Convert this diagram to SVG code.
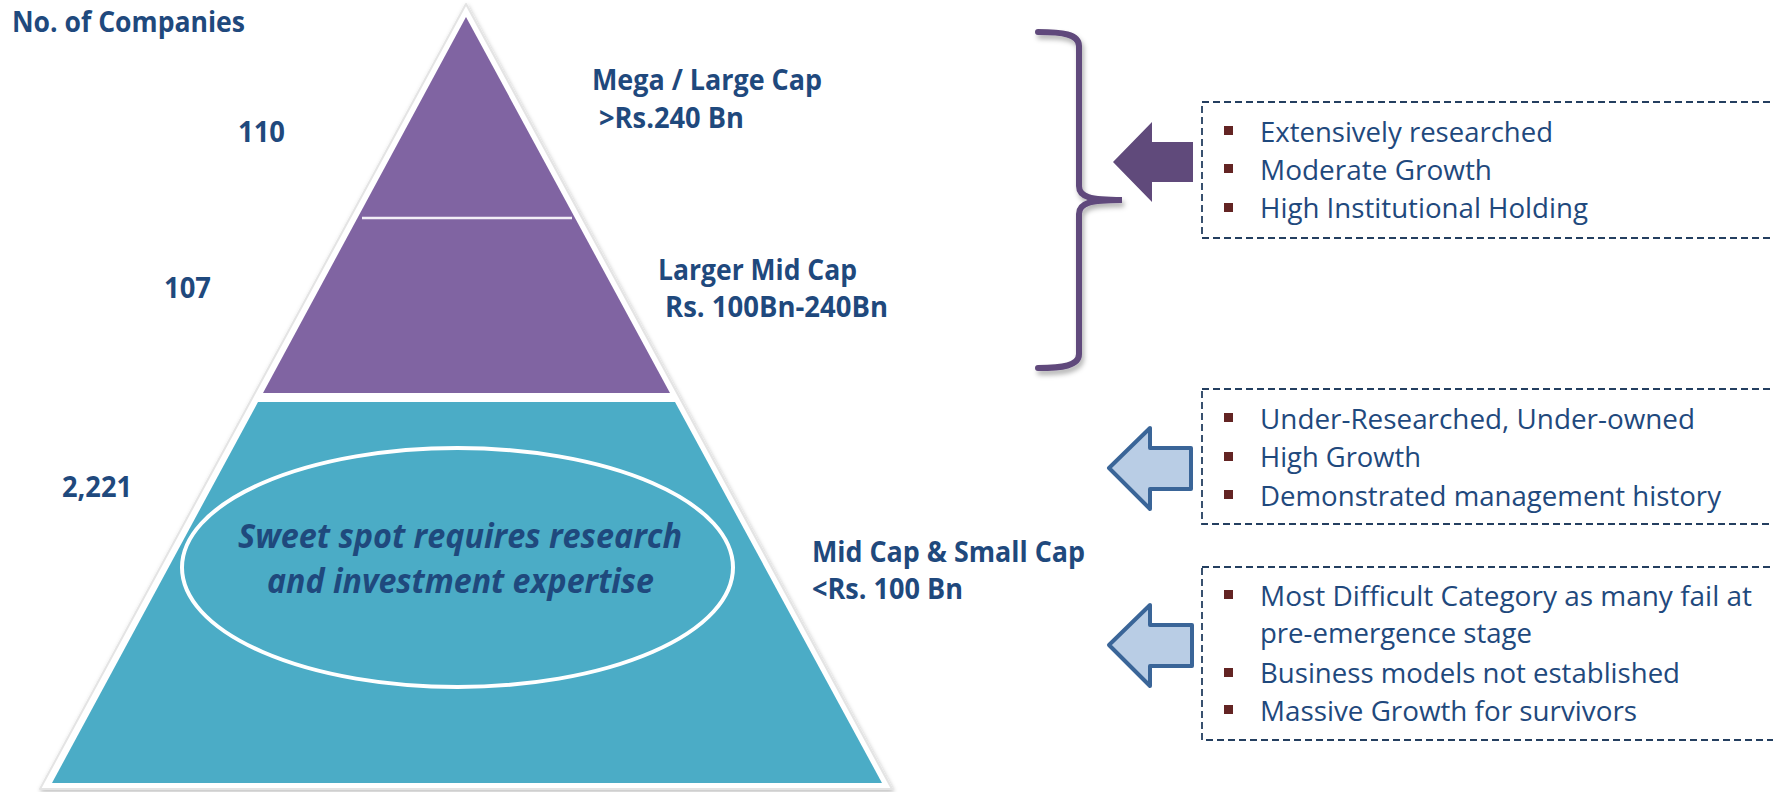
<svg xmlns="http://www.w3.org/2000/svg" width="1773" height="792" viewBox="0 0 1773 792">
<defs>
<filter id="soft" x="-5%" y="-5%" width="110%" height="110%">
<feDropShadow dx="1" dy="2" stdDeviation="2" flood-color="#000" flood-opacity="0.25"/>
</filter>
<filter id="brsh" x="-20%" y="-5%" width="140%" height="110%">
<feDropShadow dx="2" dy="4" stdDeviation="2.5" flood-color="#000" flood-opacity="0.3"/>
</filter>
<style>
.lbl{font-family:"Open Sans","Liberation Sans",sans-serif;font-weight:bold;font-size:28px;fill:#1F497D}
.bul{font-family:"Open Sans","Liberation Sans",sans-serif;font-size:27px;fill:#1F497D}
.sw{font-family:"Open Sans","Liberation Sans",sans-serif;font-weight:bold;font-style:italic;font-size:34px;fill:#1F497D}
.box{fill:none;stroke:#243F60;stroke-width:1.8;stroke-dasharray:7 4}
.sq{fill:#632423}
.barrow{fill:#B9CDE5;stroke:#3A6598;stroke-width:4;stroke-linejoin:round}
</style>
</defs>
<rect width="1773" height="792" fill="#fff"/>

<g id="pyramid">
<polygon points="466,4 892,789 40,789" fill="#fff" stroke="#e4e4e4" stroke-width="2" stroke-linejoin="round" filter="url(#soft)"/>
<g id="tier-top">
<polygon points="466,17 670,393 263,393" fill="#8064A2"/>
<line x1="362" y1="218" x2="572" y2="218" stroke="#f2eef7" stroke-width="2.5"/>
</g>
<g id="tier-bottom">
<polygon points="258,402 675,402 882,783 52,783" fill="#4BACC6"/>
</g>
<g id="sweet-spot">
<ellipse cx="457.5" cy="567.5" rx="275.5" ry="119.5" fill="none" stroke="#fff" stroke-width="4"/>
<text class="sw" x="460" y="548" text-anchor="middle" textLength="444" lengthAdjust="spacingAndGlyphs">Sweet spot requires research</text>
<text class="sw" x="460.5" y="593" text-anchor="middle" textLength="387" lengthAdjust="spacingAndGlyphs">and investment expertise</text>
</g>
</g>

<g id="counts">
<text class="lbl" x="12" y="32" textLength="233" lengthAdjust="spacingAndGlyphs">No. of Companies</text>
<text class="lbl" x="238" y="142" textLength="47" lengthAdjust="spacingAndGlyphs">110</text>
<text class="lbl" x="164" y="298" textLength="47" lengthAdjust="spacingAndGlyphs">107</text>
<text class="lbl" x="62" y="497" textLength="70" lengthAdjust="spacingAndGlyphs">2,221</text>
</g>

<g id="label-mega">
<text class="lbl" x="592" y="90" textLength="230" lengthAdjust="spacingAndGlyphs">Mega / Large Cap</text>
<text class="lbl" x="599" y="128" textLength="145" lengthAdjust="spacingAndGlyphs">&gt;Rs.240 Bn</text>
</g>
<g id="label-largermid">
<text class="lbl" x="658" y="280" textLength="199" lengthAdjust="spacingAndGlyphs">Larger Mid Cap</text>
<text class="lbl" x="665" y="317" textLength="223" lengthAdjust="spacingAndGlyphs">Rs. 100Bn-240Bn</text>
</g>
<g id="label-midsmall">
<text class="lbl" x="812" y="562" textLength="273" lengthAdjust="spacingAndGlyphs">Mid Cap &amp; Small Cap</text>
<text class="lbl" x="812" y="599" textLength="151" lengthAdjust="spacingAndGlyphs">&lt;Rs. 100 Bn</text>
</g>

<g id="connectors">
<path id="bracket" d="M1038,32 C1062,32 1079,34 1079,46 L1079,186 C1079,197 1090,200 1122,200 C1090,200 1079,203 1079,214 L1079,354 C1079,366 1062,368 1038,368" fill="none" stroke="#604A7B" stroke-width="6" stroke-linecap="round" filter="url(#brsh)"/>
<polygon id="arrow1" points="1113,162 1152,122 1152,142 1193,142 1193,182 1152,182 1152,202" fill="#604A7B"/>
<polygon id="arrow2" class="barrow" points="1109,468 1150,428 1150,448 1191,448 1191,489 1150,489 1150,509"/>
<polygon id="arrow3" class="barrow" points="1109,645 1150,605 1150,625 1192,625 1192,666 1150,666 1150,686"/>
</g>

<g id="box1">
<rect class="box" x="1202" y="102" width="590" height="136"/>
<rect class="sq" x="1224" y="126" width="9" height="9"/>
<rect class="sq" x="1224" y="164" width="9" height="9"/>
<rect class="sq" x="1224" y="203" width="9" height="9"/>
<text class="bul" x="1260" y="142" textLength="293" lengthAdjust="spacingAndGlyphs">Extensively researched</text>
<text class="bul" x="1260" y="180" textLength="232" lengthAdjust="spacingAndGlyphs">Moderate Growth</text>
<text class="bul" x="1260" y="218" textLength="328" lengthAdjust="spacingAndGlyphs">High Institutional Holding</text>
</g>

<g id="box2">
<rect class="box" x="1202" y="389" width="590" height="135"/>
<rect class="sq" x="1224" y="413" width="9" height="9"/>
<rect class="sq" x="1224" y="452" width="9" height="9"/>
<rect class="sq" x="1224" y="490" width="9" height="9"/>
<text class="bul" x="1260" y="429" textLength="435" lengthAdjust="spacingAndGlyphs">Under-Researched, Under-owned</text>
<text class="bul" x="1260" y="467" textLength="161" lengthAdjust="spacingAndGlyphs">High Growth</text>
<text class="bul" x="1260" y="506" textLength="461" lengthAdjust="spacingAndGlyphs">Demonstrated management history</text>
</g>

<g id="box3">
<rect class="box" x="1202" y="567" width="590" height="173"/>
<rect class="sq" x="1224" y="590" width="9" height="9"/>
<rect class="sq" x="1224" y="668" width="9" height="9"/>
<rect class="sq" x="1224" y="705" width="9" height="9"/>
<text class="bul" x="1260" y="606" textLength="492" lengthAdjust="spacingAndGlyphs">Most Difficult Category as many fail at</text>
<text class="bul" x="1260" y="643" textLength="272" lengthAdjust="spacingAndGlyphs">pre-emergence stage</text>
<text class="bul" x="1260" y="683" textLength="420" lengthAdjust="spacingAndGlyphs">Business models not established</text>
<text class="bul" x="1260" y="721" textLength="377" lengthAdjust="spacingAndGlyphs">Massive Growth for survivors</text>
</g>
</svg>
